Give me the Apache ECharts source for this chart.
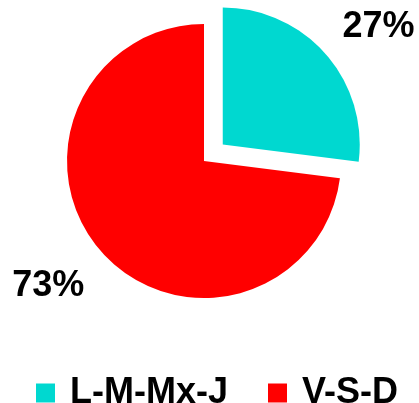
<!DOCTYPE html>
<html>
<head>
<meta charset="utf-8">
<style>
  html, body { margin: 0; padding: 0; background: #fff; }
  #chart { width: 419px; height: 403px; }
</style>
<script src="https://cdn.jsdelivr.net/npm/echarts@6/dist/echarts.min.js"></script>
</head>
<body>
<div id="chart"></div>
<script>
  // datos
  var categories = ['L-M-Mx-J', 'V-S-D'];
  var values = [27, 73];
  var colors = ['#00D8D0', '#FF0000'];

  var myChart = echarts.init(document.getElementById('chart'));

  var option = {
    animation: false,
    color: colors,
    legend: {
      left: 31,
      top: 370,
      icon: 'rect',
      itemWidth: 19,
      itemHeight: 19,
      itemGap: 40,
      selectedMode: false,
      textStyle: {
        fontFamily: 'Liberation Sans',
        fontWeight: 'bold',
        fontSize: 36,
        color: '#000',
        padding: [0, 0, 0, 10]
      },
      data: categories
    },
    series: [{
      type: 'pie',
      center: [204, 161],
      radius: 137,
      startAngle: 90,
      clockwise: true,
      selectedMode: 'single',
      selectedOffset: 25,
      avoidLabelOverlap: false,
      label: {
        show: true,
        position: 'outside',
        formatter: '{d}%',
        fontFamily: 'Liberation Sans',
        fontWeight: 'bold',
        fontSize: 36,
        color: '#000',
        distanceToLabelLine: 5
      },
      labelLine: { show: false, length: 16, length2: 0 },
      labelLayout: function (params) {
        return { dy: params.dataIndex === 0 ? -16 : 24 };
      },
      emphasis: { disabled: true },
      data: categories.map(function (name, i) {
        return { name: name, value: values[i], selected: i === 0 };
      })
    }]
  };

  myChart.setOption(option);
  window.addEventListener('resize', function () {
    myChart.resize();
  });
</script>
</body>
</html>
